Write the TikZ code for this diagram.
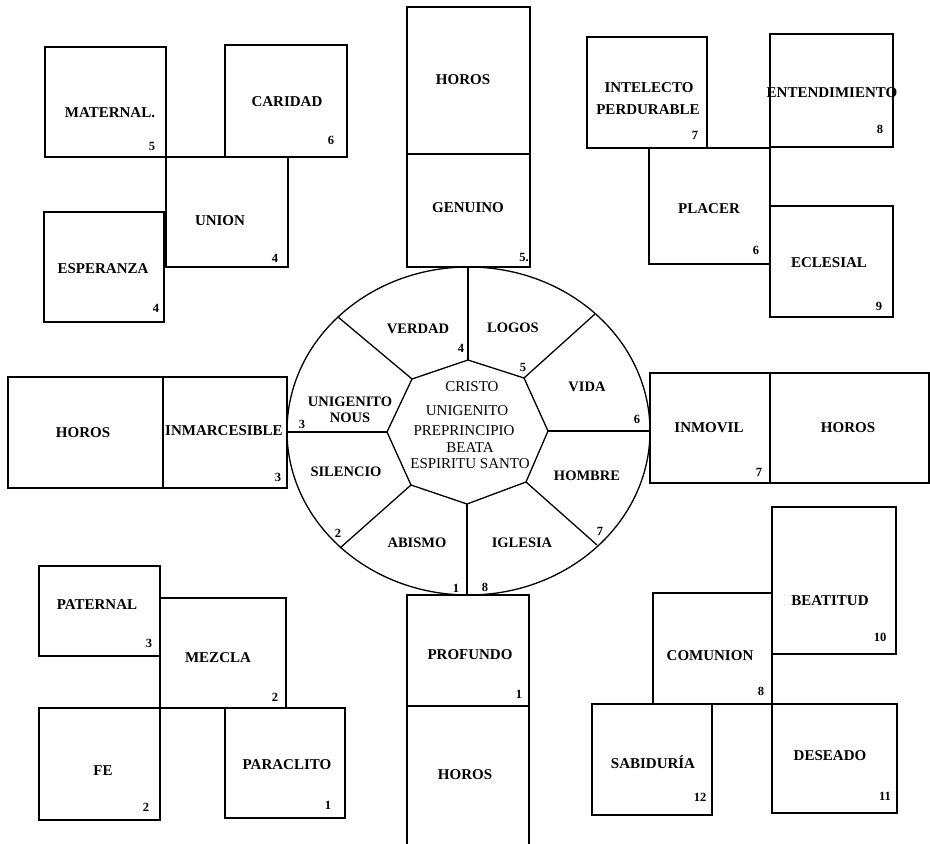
\documentclass[tikz,border=0pt]{standalone}
\usepackage{fontspec}
\setmainfont{Liberation Serif}
\usetikzlibrary{fit,shapes.geometric}
\tikzset{
  bx/.style={draw, line width=1.6pt, inner sep=0pt, outer sep=0pt, rectangle},
  lab/.style={font=\bfseries\fontsize{15}{16}\selectfont, inner sep=0pt},
  num/.style={font=\bfseries\fontsize{12.5}{13}\selectfont, inner sep=0pt},
  clab/.style={font=\bfseries\fontsize{14.5}{15}\selectfont, inner sep=0pt},
  ctext/.style={font=\fontsize{15}{16}\selectfont, inner sep=0pt},
  cline/.style={line width=1.3pt},
}
\newcommand\mybox[5]{\node[bx, fit={(#2,#3) (#4,#5)}] (#1) {};}
\begin{document}
\begin{tikzpicture}[x=1pt,y=-1pt]
\fill[white] (0,0) rectangle (930,844);
\useasboundingbox (0,0) rectangle (930,844);

% ---------- top-left cluster
\mybox{mat}{45}{47}{166}{157}
\mybox{car}{225}{45}{347}{157}
\mybox{uni}{166}{157}{288}{267}
\mybox{esp}{44}{212}{164}{322}
\node[lab] (tmat) at (110,113) {MATERNAL.};
\node[num] (nmat) at (152,146) {5};
\node[lab] (tcar) at (287,102) {CARIDAD};
\node[num] (ncar) at (331,140) {6};
\node[lab] (tuni) at (220,221) {UNION};
\node[num] (nuni) at (275,258) {4};
\node[lab] (tesp) at (103,269) {ESPERANZA};
\node[num] (nesp) at (156,308) {4};

% ---------- top centre
\mybox{hor1}{407}{7}{530}{154}
\mybox{gen}{407}{154}{530}{267}
\node[lab] (thor1) at (463,80) {HOROS};
\node[lab] (tgen) at (468,208) {GENUINO};
\node[num] (ngen) at (524,257) {5.};

% ---------- top-right cluster
\mybox{int}{587}{37}{707}{148}
\mybox{ent}{770}{34}{893}{147}
\mybox{pla}{649}{148}{770}{264}
\mybox{ecl}{770}{206}{893}{317}
\node[lab] (tint1) at (649,88) {INTELECTO};
\node[lab] (tint2) at (648,110) {PERDURABLE};
\node[num] (nint) at (695,135) {7};
\node[lab] (tent) at (832,93) {ENTENDIMIENTO};
\node[num] (nent) at (880,129) {8};
\node[lab] (tpla) at (709,209) {PLACER};
\node[num] (npla) at (756,250) {6};
\node[lab] (tecl) at (829,263) {ECLESIAL};
\node[num] (necl) at (879,306) {9};

% ---------- left pair
\mybox{hor2}{8}{377}{163}{488}
\mybox{inm}{163}{377}{287}{488}
\node[lab] (thor2) at (83,433) {HOROS};
\node[lab] (tinm) at (224,431) {INMARCESIBLE};
\node[num] (ninm) at (278,477) {3};

% ---------- right pair
\mybox{imv}{650}{373}{770}{483}
\mybox{hor3}{770}{373}{929}{483}
\node[lab] (timv) at (709,428) {INMOVIL};
\node[num] (nimv) at (759,472) {7};
\node[lab] (thor3) at (848,428) {HOROS};

% ---------- bottom centre
\mybox{pro}{407}{595}{529}{706}
\coordinate (hb1) at (407,846);
\coordinate (hb2) at (529,846);
\draw[line width=1.6pt] (pro.south west) -- (hb1);
\draw[line width=1.6pt] (pro.south east) -- (hb2);
\node[lab] (tpro) at (470,655) {PROFUNDO};
\node[num] (npro) at (519,694) {1};
\node[lab] (thor4) at (465,775) {HOROS};

% ---------- bottom-left cluster
\mybox{pat}{39}{566}{160}{656}
\mybox{mez}{160}{598}{286}{708}
\mybox{fe}{39}{708}{160}{820}
\mybox{par}{225}{708}{345}{818}
\node[lab] (tpat) at (97,605) {PATERNAL};
\node[num] (npat) at (149,643) {3};
\node[lab] (tmez) at (218,658) {MEZCLA};
\node[num] (nmez) at (275,697) {2};
\node[lab] (tfe) at (103,771) {FE};
\node[num] (nfe) at (146,807) {2};
\node[lab] (tpar) at (287,765) {PARACLITO};
\node[num] (npar) at (328,805) {1};

% ---------- bottom-right cluster
\mybox{bea}{772}{507}{896}{654}
\mybox{com}{653}{593}{772}{704}
\mybox{sab}{592}{704}{712}{815}
\mybox{des}{772}{704}{897}{813}
\node[lab] (tbea) at (830,601) {BEATITUD};
\node[num] (nbea) at (880,637) {10};
\node[lab] (tcom) at (710,656) {COMUNION};
\node[num] (ncom) at (761,691) {8};
\node[lab] (tsab) at (653,762) {SABIDURÍA};
\node[num] (nsab) at (700,797) {12};
\node[lab] (tdes) at (830,756) {DESEADO};
\node[num] (ndes) at (885,796) {11};

% ---------- central circle
\node[draw, cline, ellipse, inner sep=0pt, outer sep=0pt, minimum width=363pt, minimum height=328pt] (circ) at (468.5,431) {};
\coordinate (o1) at (468,360);
\coordinate (o2) at (524,378);
\coordinate (o3) at (548,431);
\coordinate (o4) at (526,482);
\coordinate (o5) at (467,504);
\coordinate (o6) at (411,485);
\coordinate (o7) at (387,432);
\coordinate (o8) at (412,379);
\coordinate (e1) at (468,267);
\coordinate (e2) at (595,314);
\coordinate (e3) at (650,431);
\coordinate (e4) at (597,545);
\coordinate (e5) at (467,595);
\coordinate (e6) at (340,548);
\coordinate (e7) at (287,432);
\coordinate (e8) at (338,317);
\draw[cline] (o1) -- (o2) -- (o3) -- (o4) -- (o5) -- (o6) -- (o7) -- (o8) -- cycle;
\foreach \i in {1,...,8} {\draw[cline] (o\i) -- (e\i);}

\node[clab] (cver) at (418,329) {VERDAD};
\node[clab] (clog) at (513,328) {LOGOS};
\node[clab] (cvid) at (587,387) {VIDA};
\node[clab] (chom) at (587,476) {HOMBRE};
\node[clab] (cigl) at (522,543) {IGLESIA};
\node[clab] (cabi) at (417,543) {ABISMO};
\node[clab] (csil) at (346,472) {SILENCIO};
\node[clab] (cuni1) at (350,402) {UNIGENITO};
\node[clab] (cuni2) at (350,418) {NOUS};

\node[ctext] (k1) at (472,387) {CRISTO};
\node[ctext] (k2) at (467,411) {UNIGENITO};
\node[ctext] (k3) at (464,431) {PREPRINCIPIO};
\node[ctext] (k4) at (470,448) {BEATA};
\node[ctext] (k5) at (470,464) {ESPIRITU SANTO};

\node[num] (c4) at (461,348) {4};
\node[num] (c5) at (523,367) {5};
\node[num] (c6) at (637,419) {6};
\node[num] (c7) at (600,531) {7};
\node[num] (c8) at (485,587) {8};
\node[num] (c1) at (456,588) {1};
\node[num] (c2) at (338,533) {2};
\node[num] (c3) at (302,424) {3};
\end{tikzpicture}
\end{document}
